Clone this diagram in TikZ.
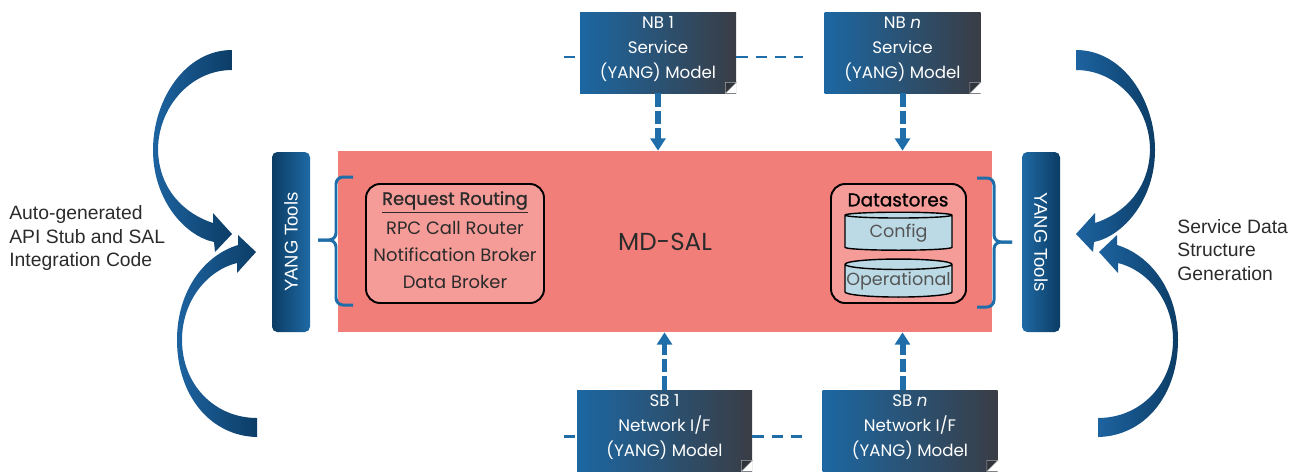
\documentclass[tikz,border=0pt]{standalone}
\usepackage{fontspec}
\setmainfont{Liberation Sans}
\newfontfamily\geo{Poppins}
\newfontfamily\geomid{Poppins}[FakeBold=1.2]
\usetikzlibrary{arrows.meta,shapes.geometric}

\newdimen\pxu \pxu=0.02cm
\definecolor{salpink}{HTML}{F27E7A}
\definecolor{boxpink}{HTML}{F59C98}
\definecolor{dsblue}{HTML}{BCDAE6}
\definecolor{linkblue}{HTML}{1F6EA9}
\definecolor{nbblue}{HTML}{1C67A2}
\definecolor{nbgray}{HTML}{393D45}
\definecolor{barblue}{HTML}{1F6AA5}
\definecolor{bardark}{HTML}{0B3C64}
\definecolor{arclight}{HTML}{1D63A0}
\definecolor{arcdark}{HTML}{0C3D66}
\definecolor{ink}{HTML}{2B2B2B}

% folded corner on a model box
\newcommand\dogear[1]{%
  \fill[white] (#1.south east) -- ++(-11,0) -- ++(11,-11) -- cycle;
  \filldraw[fill=nbgray!85!black, draw=gray!70, line width=0.3pt]
    (#1.south east) ++(-11,0) -- ++(11,-11) -- ++(-11,0) -- cycle;}
\newcommand\lift[1]{\rule[-#1]{0pt}{#1}}

\begin{document}
\begin{tikzpicture}[x=0.02cm, y=-0.02cm,
  model/.style={left color=nbblue, right color=nbgray, text=white,
    align=center, inner sep=0pt, minimum height=81\pxu,
    font=\geo\fontsize{9.5}{14.2}\selectfont},
  yangbar/.style={rounded corners=3pt, text=white, inner sep=0pt,
    minimum width=180\pxu, minimum height=38\pxu,
    font=\fontsize{10.5}{12}\selectfont},
  inbox/.style={draw=black, line width=1.1pt, fill=boxpink,
    rounded corners=8pt, inner sep=0pt, minimum height=119\pxu},
  db/.style={cylinder, shape border rotate=90, aspect=0.1, draw=black,
    line width=0.8pt, fill=dsblue, inner sep=0pt, text=ink!80,
    minimum width=107\pxu, minimum height=38\pxu,
    font=\geo\fontsize{10}{12}\selectfont},
  link/.style={linkblue, line width=1.7pt, dash pattern=on 6.5pt off 4.5pt},
  flow/.style={linkblue, line width=3.4pt, dash pattern=on 7.5pt off 2.5pt,
    -{Triangle[width=8.5pt, length=7pt]}},
  brace/.style={linkblue, line width=1.7pt, rounded corners=4pt},
  curvy/.style={left color=arclight, right color=arcdark},
  side/.style={align=left, anchor=west, inner sep=0pt, text=ink,
    font=\fontsize{11}{13.3}\selectfont},
  uparc/.pic={\shade[curvy] (232,50) .. controls (185,50) and (153,100) .. (153,150)
    .. controls (153,200) and (185,236) .. (214,242) -- (215,252) -- (232,234)
    -- (213,213) -- (213,223) .. controls (185,214) and (159,190) .. (158,150)
    .. controls (158,108) and (190,70) .. (232,70) -- cycle;},
  lowarc/.pic={\shade[curvy] (257,437) .. controls (210,436) and (177,395) .. (177,340)
    .. controls (177,290) and (205,255) .. (238,245) -- (238,235) -- (256,252)
    -- (237,273) -- (237,263) .. controls (208,270) and (182,300) .. (182,340)
    .. controls (182,385) and (215,418) .. (257,418) -- cycle;}]

\useasboundingbox (0,0) rectangle (1293,471);

% core
\node[fill=salpink, minimum width=654\pxu, minimum height=181\pxu, text=ink,
  font=\geo\fontsize{14}{16}\selectfont] (sal) at (665,241.5) {MD-SAL};
\node[yangbar, rotate=90, left color=bardark, right color=barblue] (ytl) at (291,242) {YANG Tools};
\node[yangbar, rotate=-90, left color=barblue, right color=bardark] (ytr) at (1041,242) {YANG Tools};
\draw[brace] (353,177) -| (336,240) -- (318,240);
\draw[brace] (318,240) -- (336,240) |- (353,305);
\draw[brace] (977,178) -| (994,242) -- (1012,242);
\draw[brace] (1012,242) -- (994,242) |- (977,307);

\node[inbox, minimum width=178\pxu, align=center, text=ink,
  font=\geo\fontsize{10.2}{15.4}\selectfont] (route) at (455,243.5)
  {{\geomid\underline{Request Routing}}\\[1.5pt] RPC Call Router\\ Notification Broker\\ Data Broker\lift{4pt}};
\node[inbox, minimum width=135\pxu] (store) at (898.5,243.5) {};
\node[text=black, font=\geomid\fontsize{10.5}{12}\selectfont] (storetxt) at (898,200) {Datastores};
\node[db] (config) at (898.5,233) {Config};
\node[db] (oper) at (898.5,281) {Operational};

% models
\node[model, minimum width=156\pxu] (nb1) at (658,52.5) {NB 1\\Service\\(YANG) Model\lift{6pt}};
\node[model, minimum width=156\pxu] (nbn) at (902.5,52.5) {NB \textit{n}\\Service\\(YANG) Model\lift{6pt}};
\node[model, minimum width=175\pxu] (sb1) at (664.5,430.5) {SB 1\\Network I/F\\(YANG) Model\lift{6pt}};
\node[model, minimum width=175\pxu] (sbn) at (910,430.5) {SB \textit{n}\\Network I/F\\(YANG) Model\lift{6pt}};
\dogear{nb1} \dogear{nbn} \dogear{sb1} \dogear{sbn}

\coordinate (nbl) at (564,57);  \coordinate (nbr) at (803,57);
\coordinate (sbl) at (564,436); \coordinate (sbr) at (803,436);
\draw[link] (nbl) -- (nbl -| nb1.west);
\draw[link] (nbl -| nb1.east) -- (nbr);
\draw[link] (sbl) -- (sbl -| sb1.west);
\draw[link] (sbl -| sb1.east) -- (sbr);

\draw[flow] (nb1.south) -- (nb1.south |- sal.north);
\draw[flow] (nbn.south) -- (nbn.south |- sal.north);
\draw[flow] (sb1.north) -- (sb1.north |- sal.south);
\draw[flow] (sbn.north -| nbn) -- (sal.south -| nbn);

% generation arcs
\pic at (0,0) {uparc};
\pic at (0,0) {lowarc};
\pic[xscale=-1] at (1308,0) {uparc};
\pic[xscale=-1] at (1355,0) {lowarc};

\node[side] (autogen) at (9,238) {Auto-generated\\API Stub and SAL\\Integration Code};
\node[side] (svcgen) at (1177,250) {Service Data\\Structure\\Generation};
\end{tikzpicture}
\end{document}
